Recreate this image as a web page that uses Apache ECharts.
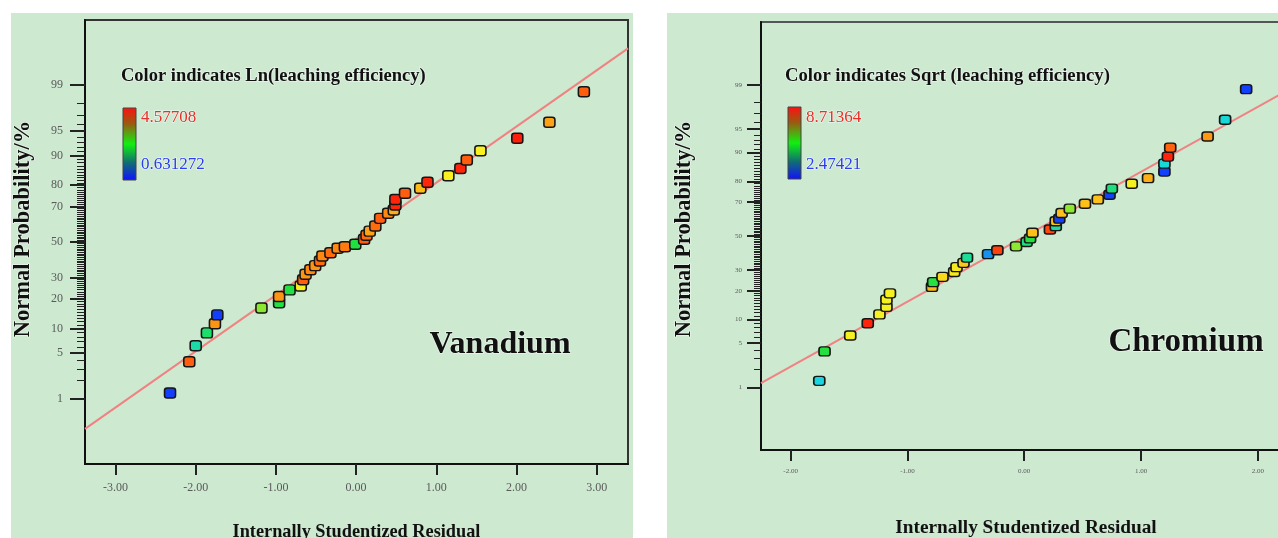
<!DOCTYPE html>
<html lang="en">
<head>
<meta charset="UTF-8">
<title>Normal probability plots of residuals</title>
<script src="https://cdn.jsdelivr.net/npm/echarts@6.0.0/dist/echarts.min.js"></script>
<style>
  html, body { margin: 0; padding: 0; background: #fff; }
  #chart { width: 1278px; height: 538px; }
</style>
</head>
<body>
<div id="chart"></div>
<script>
// Vanadium: internally studentized residual, normal probability (%), Ln(leaching efficiency)
var vResidual = [-2.32, -2.08, -2.00, -1.86, -1.76, -1.73, -1.18, -0.96, -0.96, -0.83,
                 -0.69, -0.66, -0.63, -0.57, -0.51, -0.45, -0.42, -0.32, -0.23, -0.14, -0.01,
                 0.10, 0.13, 0.17, 0.24, 0.30, 0.40, 0.47, 0.49, 0.49, 0.61,
                 0.80, 0.89, 1.15, 1.30, 1.38, 1.55, 2.01, 2.41, 2.84];
var vProb = [1.26, 3.8, 6.2, 8.9, 11.3, 14.0, 16.4, 18.4, 21.0, 23.9,
             25.7, 28.8, 31.6, 34.0, 36.3, 38.9, 41.8, 43.7, 46.3, 47.2, 48.7,
             51.6, 54.0, 56.4, 59.4, 63.7, 66.5, 68.2, 70.8, 73.6, 76.5,
             78.7, 81.2, 83.7, 86.2, 88.8, 91.2, 93.8, 96.2, 98.7];
var vLn = [0.7, 4.1, 1.7, 2.0, 3.7, 0.7, 2.6, 2.2, 3.7, 2.2,
           3.0, 4.1, 3.7, 3.8, 3.7, 4.0, 3.8, 4.0, 3.8, 3.9, 2.2,
           4.1, 4.0, 3.6, 4.0, 4.1, 3.8, 3.5, 4.5, 4.5, 4.1,
           3.4, 4.5, 3.0, 4.5, 4.1, 3.0, 4.55, 3.6, 4.1];
var vRange = [0.631272, 4.57708];
var vFitX = [-3.38, 3.39];
var vFitZ = [-2.77, 2.87];
var vXTicks = [-3, -2, -1, 0, 1, 2, 3];

// Chromium: residual, normal probability (%), Sqrt(leaching efficiency)
var cResidual = [-1.755, -1.71, -1.49, -1.34, -1.24, -1.18, -1.18, -1.15, -0.79, -0.78,
                 -0.70, -0.60, -0.58, -0.52, -0.49, -0.31, -0.23, -0.07, 0.02, 0.05,
                 0.07, 0.22, 0.27, 0.27, 0.30, 0.32, 0.39, 0.52, 0.63, 0.73,
                 0.75, 0.92, 1.06, 1.20, 1.20, 1.23, 1.25, 1.57, 1.72, 1.90];
var cProb = [1.3, 3.8, 6.3, 9.0, 11.4, 13.8, 16.4, 18.9, 21.7, 23.9,
             26.5, 29.0, 31.6, 34.0, 37.0, 39.0, 41.3, 43.7, 46.3, 48.5,
             52.0, 54.0, 56.0, 59.0, 60.5, 63.8, 66.3, 69.0, 71.3, 73.7,
             76.7, 78.9, 81.3, 83.9, 86.7, 88.9, 91.3, 93.7, 96.3, 98.8];
var cSqrt = [3.7, 5.0, 6.2, 8.6, 6.2, 6.2, 6.2, 6.2, 6.9, 5.0,
             6.5, 6.3, 6.3, 6.7, 4.3, 3.2, 8.3, 5.6, 4.5, 5.0,
             6.8, 8.2, 4.2, 6.8, 2.6, 6.8, 5.6, 6.8, 6.8, 2.6,
             4.5, 6.2, 7.0, 2.6, 3.8, 8.6, 7.9, 7.3, 3.8, 2.6];
var cRange = [2.47421, 8.71364];
var cFitX = [-2.254, 2.284];
var cFitZ = [-2.26, 2.27];
var cXTicks = [-2, -1, 0, 1, 2];

// probability axis labels (%)
var probTicks = [1, 5, 10, 20, 30, 50, 70, 80, 90, 95, 99];

var SERIF = '"Liberation Serif", "DejaVu Serif", serif';
var pointColors = ['#1030ff', '#18d8e0', '#20e040', '#f8f020', '#ff8a10', '#ff1a0a'];

// inverse normal CDF (Acklam)
function probit(p) {
    var a = [-3.969683028665376e+01, 2.209460984245205e+02, -2.759285104469687e+02, 1.383577518672690e+02, -3.066479806614716e+01, 2.506628277459239e+00];
    var b = [-5.447609879822406e+01, 1.615858368580409e+02, -1.556989798598866e+02, 6.680131188771972e+01, -1.328068155288572e+01];
    var c = [-7.784894002430293e-03, -3.223964580411365e-01, -2.400758277161838e+00, -2.549671010229346e+00, 4.374664141464968e+00, 2.938163982698783e+00];
    var d = [7.784695709041462e-03, 3.224671290700398e-01, 2.445134137142996e+00, 3.754408661907416e+00];
    var pl = 0.02425, q, r;
    if (p < pl) {
        q = Math.sqrt(-2 * Math.log(p));
        return (((((c[0]*q+c[1])*q+c[2])*q+c[3])*q+c[4])*q+c[5]) / ((((d[0]*q+d[1])*q+d[2])*q+d[3])*q+1);
    }
    if (p > 1 - pl) {
        q = Math.sqrt(-2 * Math.log(1 - p));
        return -(((((c[0]*q+c[1])*q+c[2])*q+c[3])*q+c[4])*q+c[5]) / ((((d[0]*q+d[1])*q+d[2])*q+d[3])*q+1);
    }
    q = p - 0.5; r = q * q;
    return (((((a[0]*r+a[1])*r+a[2])*r+a[3])*r+a[4])*r+a[5])*q / (((((b[0]*r+b[1])*r+b[2])*r+b[3])*r+b[4])*r+1);
}

var majorZ = probTicks.map(function (p) { return probit(p / 100); });
var minorZ = [];
for (var k = 1; k <= 99; k++) minorZ.push(probit(k / 100));

function probLabel(v) {
    for (var i = 0; i < majorZ.length; i++) {
        if (Math.abs(majorZ[i] - v) < 1e-6) return String(probTicks[i]);
    }
    return '';
}

function probAxes(gridIndex, majorLen, minorLen, fontSize, margin) {
    return [{
        type: 'value', gridIndex: gridIndex, position: 'left', min: -3.29, max: 3.29,
        axisLine: {show: true, onZero: false, lineStyle: {color: '#111', width: 2}},
        axisTick: {show: true, length: majorLen, customValues: majorZ, lineStyle: {color: '#222', width: 2}},
        axisLabel: {show: true, customValues: majorZ, margin: margin, formatter: probLabel,
            fontFamily: SERIF, fontSize: fontSize, color: '#5a5a5a'},
        splitLine: {show: false}
    }, {
        type: 'value', gridIndex: gridIndex, position: 'left', min: -3.29, max: 3.29,
        axisLine: {show: false, onZero: false},
        axisTick: {show: true, length: minorLen, customValues: minorZ, lineStyle: {color: '#222', width: 1}},
        axisLabel: {show: false},
        splitLine: {show: false}
    }];
}

function resAxis(gridIndex, min, max, ticks, fontSize, nameSize, nameGap) {
    return {
        type: 'value', gridIndex: gridIndex, position: 'bottom', min: min, max: max,
        axisLine: {show: true, onZero: false, lineStyle: {color: '#111', width: 2}},
        axisTick: {show: true, length: 11, customValues: ticks, lineStyle: {color: '#222', width: 2}},
        axisLabel: {show: true, customValues: ticks, margin: 18,
            formatter: function (v) { return v.toFixed(2); },
            fontFamily: SERIF, fontSize: fontSize, color: '#5a5a5a'},
        splitLine: {show: false},
        name: 'Internally Studentized Residual', nameLocation: 'middle', nameGap: nameGap,
        nameTextStyle: {fontFamily: SERIF, fontWeight: 'bold', fontSize: nameSize, color: '#111'}
    };
}

function points(res, prob, resp) {
    return res.map(function (x, i) { return [x, probit(prob[i] / 100), resp[i]]; });
}

function colorBar(x, y) {
    return {
        type: 'rect', shape: {x: x, y: y, width: 13, height: 72},
        style: {
            fill: new echarts.graphic.LinearGradient(0, 0, 0, 1, [
                {offset: 0, color: '#ff1010'}, {offset: 0.22, color: '#9a5a10'},
                {offset: 0.5, color: '#10f010'}, {offset: 0.75, color: '#107070'},
                {offset: 1, color: '#1010ff'}
            ]),
            stroke: '#444', lineWidth: 1
        }
    };
}

function txt(x, y, text, font, fill, extra) {
    var el = {type: 'text', x: x, y: y, style: {text: text, font: font, fill: fill, verticalAlign: 'middle',
        stroke: 'rgba(255,255,255,0.55)', lineWidth: 1.5}};
    if (extra) for (var key in extra) el[key] = extra[key];
    if (extra && extra.align) el.style.align = extra.align;
    return el;
}

var chart = echarts.init(document.getElementById('chart'));
var lineStyle = {color: '#f08282', width: 2};
var pointStyle = {borderColor: '#151515', borderWidth: 1.5, opacity: 1};

chart.setOption({
    animation: false,
    backgroundColor: '#ffffff',
    grid: [
        {left: 85, top: 20, width: 543, height: 444, outerBoundsMode: 'none', containLabel: false,
            show: true, borderColor: '#333', borderWidth: 2, backgroundColor: 'transparent'},
        {left: 761, top: 22, width: 530, height: 428, outerBoundsMode: 'none', containLabel: false,
            show: true, borderColor: '#555', borderWidth: 2, backgroundColor: 'transparent'}
    ],
    xAxis: [
        resAxis(0, -3.38, 3.39, vXTicks, 12, 18.3, 59),
        resAxis(1, -2.254, 2.284, cXTicks, 7, 19.3, 69)
    ],
    yAxis: probAxes(0, 15, 8, 12, 22).concat(probAxes(1, 14, 7, 7, 19)),
    visualMap: [
        {type: 'continuous', show: false, seriesIndex: 1, dimension: 2, min: vRange[0], max: vRange[1], inRange: {color: pointColors}},
        {type: 'continuous', show: false, seriesIndex: 3, dimension: 2, min: cRange[0], max: cRange[1], inRange: {color: pointColors}}
    ],
    series: [
        {type: 'line', xAxisIndex: 0, yAxisIndex: 0, symbol: 'none', silent: true, z: 2,
            data: [[vFitX[0], vFitZ[0]], [vFitX[1], vFitZ[1]]], lineStyle: lineStyle},
        {type: 'scatter', xAxisIndex: 0, yAxisIndex: 0, symbol: 'roundRect', symbolSize: [11, 10], z: 3,
            data: points(vResidual, vProb, vLn), itemStyle: pointStyle},
        {type: 'line', xAxisIndex: 1, yAxisIndex: 2, symbol: 'none', silent: true, z: 2,
            data: [[cFitX[0], cFitZ[0]], [cFitX[1], cFitZ[1]]], lineStyle: lineStyle},
        {type: 'scatter', xAxisIndex: 1, yAxisIndex: 2, symbol: 'roundRect', symbolSize: [11, 9], z: 3,
            data: points(cResidual, cProb, cSqrt), itemStyle: pointStyle}
    ],
    graphic: [
        {type: 'rect', z: -10, shape: {x: 11, y: 13, width: 622, height: 525}, style: {fill: '#cde9d0'}},
        {type: 'rect', z: -10, shape: {x: 667, y: 13, width: 611, height: 525}, style: {fill: '#cde9d0'}},
        txt(121, 76, 'Color indicates Ln(leaching efficiency)', 'bold 18.5px ' + SERIF, '#111'),
        colorBar(123, 108),
        txt(141, 118, '4.57708', '17px ' + SERIF, '#e8302a'),
        txt(141, 165, '0.631272', '17px ' + SERIF, '#2a3cf0'),
        txt(500, 345, 'Vanadium', 'bold 32px ' + SERIF, '#111', {align: 'center'}),
        txt(23, 229, 'Normal Probability/%', 'bold 22.5px ' + SERIF, '#111', {align: 'center', rotation: Math.PI / 2}),
        txt(785, 76, 'Color indicates Sqrt (leaching efficiency)', 'bold 18.7px ' + SERIF, '#111'),
        colorBar(788, 107),
        txt(806, 118, '8.71364', '17px ' + SERIF, '#e8302a'),
        txt(806, 165, '2.47421', '17px ' + SERIF, '#2a3cf0'),
        txt(1186, 342, 'Chromium', 'bold 33px ' + SERIF, '#111', {align: 'center'}),
        txt(684, 229, 'Normal Probability/%', 'bold 22.5px ' + SERIF, '#111', {align: 'center', rotation: Math.PI / 2})
    ]
});
</script>
</body>
</html>
